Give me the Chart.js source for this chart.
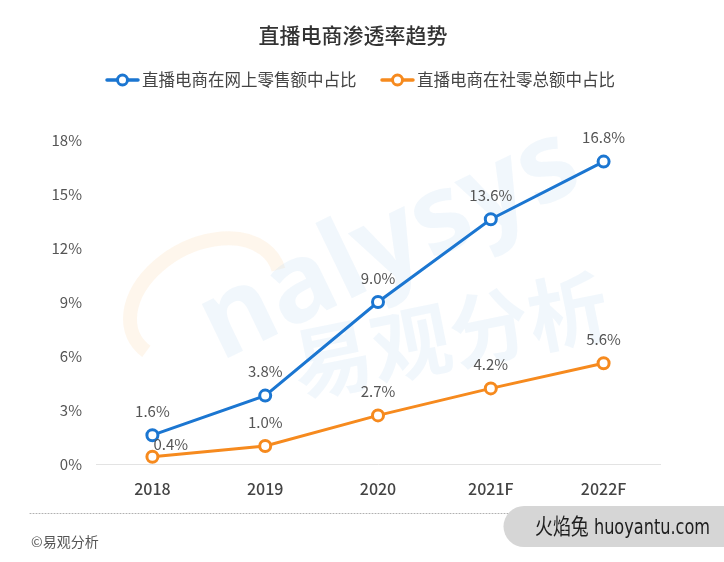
<!DOCTYPE html>
<html>
<head>
<meta charset="utf-8">
<script src="https://cdn.jsdelivr.net/npm/chart.js@4/dist/chart.umd.min.js"></script>
<style>
  html, body { margin: 0; padding: 0; background: #ffffff; }
  #wrap { width: 724px; height: 562px; position: relative; }
</style>
</head>
<body>
<div id="wrap"><canvas id="c" width="724" height="562"></canvas></div>
<script>
const titleText = '直播电商渗透率趋势';
const categories = ['2018', '2019', '2020', '2021F', '2022F'];
const onlineShare = [1.6, 3.8, 9.0, 13.6, 16.8];
const retailShare = [0.4, 1.0, 2.7, 4.2, 5.6];
const seriesNames = ['直播电商在网上零售额中占比', '直播电商在社零总额中占比'];
const yTicks = [0, 3, 6, 9, 12, 15, 18];
const sourceText = '©易观分析';
const stampText = '火焰兔 huoyantu.com';

const BLUE = '#1b76d1';
const ORANGE = '#f68a1e';
const FONT = '"Noto Sans CJK SC", "Noto Sans", sans-serif';

const decor = {
  id: 'decor',
  beforeDatasetsDraw(chart) {
    const ctx = chart.ctx;
    // faint background watermark
    ctx.save();
    ctx.strokeStyle = 'rgba(250,215,170,0.22)';
    ctx.lineWidth = 14;
    ctx.beginPath();
    ctx.ellipse(205, 300, 80, 55, -0.5, Math.PI * 0.9, Math.PI * 2.05);
    ctx.stroke();
    ctx.restore();
    ctx.save();
    ctx.fillStyle = 'rgba(200,222,245,0.25)';
    ctx.font = 'bold 110px "Noto Sans", sans-serif';
    ctx.translate(390, 245);
    ctx.rotate(-0.45);
    ctx.textAlign = 'center';
    ctx.textBaseline = 'middle';
    ctx.fillText('nalysys', 0, 0);
    ctx.restore();
    ctx.save();
    ctx.fillStyle = 'rgba(200,222,245,0.25)';
    ctx.font = 'bold 80px "Noto Sans CJK SC", sans-serif';
    ctx.translate(450, 335);
    ctx.rotate(-0.2);
    ctx.textAlign = 'center';
    ctx.textBaseline = 'middle';
    ctx.fillText('易观分析', 0, 0);
    ctx.restore();
  },
  afterDraw(chart) {
    const ctx = chart.ctx;
    ctx.save();
    // title
    ctx.fillStyle = '#333333';
    ctx.font = '500 21px ' + FONT;
    ctx.textAlign = 'center';
    ctx.textBaseline = 'middle';
    ctx.fillText(titleText, 353, 35);

    // legend
    const items = [
      { x: 107, color: BLUE, text: seriesNames[0] },
      { x: 382, color: ORANGE, text: seriesNames[1] }
    ];
    const ly = 80;
    items.forEach(it => {
      ctx.strokeStyle = it.color;
      ctx.lineWidth = 3.5;
      ctx.lineCap = 'round';
      ctx.beginPath();
      ctx.moveTo(it.x, ly);
      ctx.lineTo(it.x + 31, ly);
      ctx.stroke();
      ctx.beginPath();
      ctx.arc(it.x + 15.5, ly, 5, 0, Math.PI * 2);
      ctx.fillStyle = '#fff';
      ctx.fill();
      ctx.lineWidth = 3;
      ctx.stroke();
      ctx.fillStyle = '#444444';
      ctx.font = '16.5px ' + FONT;
      ctx.textAlign = 'left';
      ctx.textBaseline = 'middle';
      ctx.fillText(it.text, it.x + 35, ly);
    });

    // value labels
    ctx.font = '15px ' + FONT;
    ctx.fillStyle = '#555555';
    ctx.textBaseline = 'middle';
    chart.data.datasets.forEach((ds, di) => {
      const meta = chart.getDatasetMeta(di);
      meta.data.forEach((pt, i) => {
        const v = ds.data[i];
        const txt = v.toFixed(1) + '%';
        if (di === 1 && i === 0) {
          ctx.textAlign = 'left';
          ctx.fillText(txt, pt.x + 1, pt.y - 13);
        } else {
          ctx.textAlign = 'center';
          ctx.fillText(txt, pt.x, pt.y - 24);
        }
      });
    });

    // dotted separator
    ctx.strokeStyle = '#b0b0b0';
    ctx.lineWidth = 1;
    ctx.setLineDash([1, 2]);
    ctx.beginPath();
    ctx.moveTo(30, 513.5);
    ctx.lineTo(720, 513.5);
    ctx.stroke();
    ctx.setLineDash([]);

    // source
    ctx.fillStyle = '#555555';
    ctx.font = '14px ' + FONT;
    ctx.textAlign = 'left';
    ctx.fillText(sourceText, 31, 542);

    // stamp box
    ctx.fillStyle = '#d6d6d6';
    const bx = 504, by = 506, bh = 41, r = 20;
    ctx.beginPath();
    ctx.moveTo(bx + r, by);
    ctx.lineTo(730, by);
    ctx.lineTo(730, by + bh);
    ctx.lineTo(bx + r, by + bh);
    ctx.arc(bx + r, by + bh / 2, bh / 2, Math.PI / 2, Math.PI * 1.5);
    ctx.closePath();
    ctx.fill();
    ctx.fillStyle = '#1e1e1e';
    ctx.font = '22px "Liberation Sans Narrow", "DejaVu Sans Condensed", "Noto Sans CJK SC", sans-serif';
    ctx.textAlign = 'left';
    const w = ctx.measureText(stampText).width;
    ctx.save();
    ctx.translate(535, 528);
    ctx.scale(175 / w, 1);
    ctx.fillText(stampText, 0, 0);
    ctx.restore();
    ctx.restore();
  }
};

new Chart(document.getElementById('c'), {
  type: 'line',
  data: {
    labels: categories,
    datasets: [
      {
        label: seriesNames[0],
        data: onlineShare,
        borderColor: BLUE,
        backgroundColor: '#ffffff',
        borderWidth: 3,
        pointRadius: 5.5,
        pointBorderWidth: 3,
        pointBackgroundColor: '#ffffff',
        pointBorderColor: BLUE,
        tension: 0
      },
      {
        label: seriesNames[1],
        data: retailShare,
        borderColor: ORANGE,
        backgroundColor: '#ffffff',
        borderWidth: 3,
        pointRadius: 5.5,
        pointBorderWidth: 3,
        pointBackgroundColor: '#ffffff',
        pointBorderColor: ORANGE,
        tension: 0
      }
    ]
  },
  options: {
    responsive: false,
    animation: false,
    devicePixelRatio: 1,
    layout: { padding: { top: 140, left: 0, right: 64, bottom: 0 } },
    plugins: {
      legend: { display: false },
      title: { display: false },
      tooltip: { enabled: false }
    },
    scales: {
      x: {
        offset: true,
        grid: { display: false, drawTicks: false },
        border: { display: true, color: '#e3e3e3', width: 1 },
        ticks: {
          color: '#444444',
          font: { family: FONT, size: 16, weight: '500' },
          padding: 15
        },
        afterFit(scale) { scale.height = 562 - 464; }
      },
      y: {
        min: 0,
        max: 18,
        afterBuildTicks(scale) { scale.ticks = yTicks.map(v => ({ value: v })); },
        grid: { display: false, drawTicks: false },
        border: { display: false },
        ticks: {
          color: '#555555',
          font: { family: FONT, size: 15 },
          padding: 14,
          callback: v => v + '%'
        },
        afterFit(scale) { scale.width = 96; }
      }
    }
  },
  plugins: [decor]
});
</script>
</body>
</html>
